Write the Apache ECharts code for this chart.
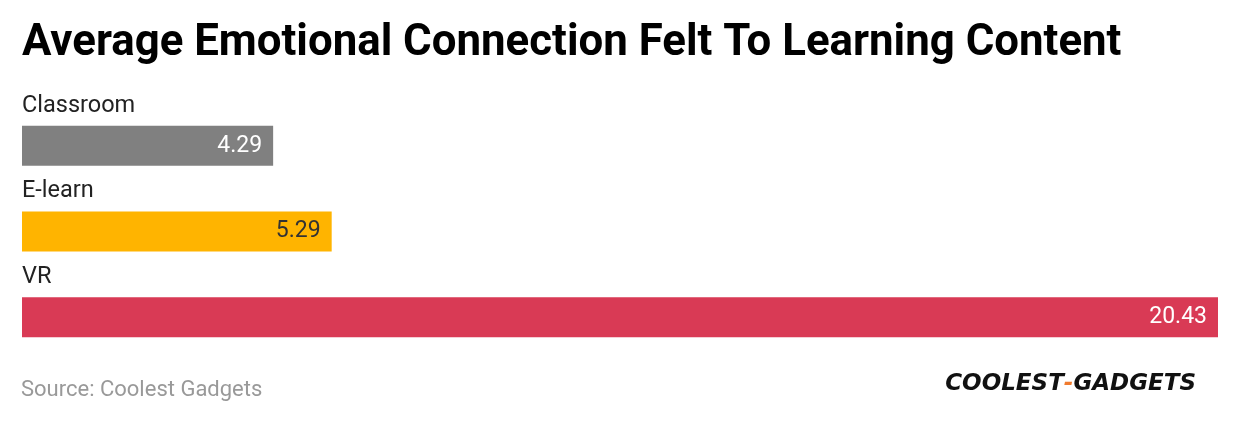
<!DOCTYPE html>
<html>
<head>
<meta charset="utf-8">
<script src="https://cdn.jsdelivr.net/npm/echarts@6/dist/echarts.min.js"></script>
<style>
  html, body { margin: 0; padding: 0; background: #fff; }
  #chart { width: 1240px; height: 424px; }
</style>
</head>
<body>
<div id="chart"></div>
<script>
// chart data
const categories = ['Classroom', 'E-learn', 'VR'];
const values = [4.29, 5.29, 20.43];
const barColors = ['#808080', '#FFB400', '#D93A55'];
const labelColors = ['#ffffff', '#333333', '#ffffff'];

const chart = echarts.init(document.getElementById('chart'));

const option = {
  backgroundColor: '#ffffff',
  animation: false,
  textStyle: { fontFamily: 'Roboto' },
  grid: { left: 22, right: 22, top: 103, bottom: 64 },
  xAxis: {
    type: 'value',
    min: 0,
    max: 20.43,
    show: false
  },
  yAxis: {
    type: 'category',
    data: categories,
    inverse: true,
    show: false
  },
  series: [
    {
      type: 'bar',
      barWidth: 40,
      data: values.map((v, i) => ({
        value: v,
        itemStyle: { color: barColors[i] },
        label: { color: labelColors[i] }
      })),
      label: {
        show: true,
        position: 'insideRight',
        distance: 11,
        fontSize: 23,
        fontFamily: 'Roboto',
        formatter: p => p.value.toFixed(2)
      }
    },
    {
      // invisible twin bars carrying the category names above each bar
      type: 'bar',
      barWidth: 40,
      barGap: '-100%',
      silent: true,
      itemStyle: { color: 'rgba(0,0,0,0)' },
      data: values,
      label: {
        show: true,
        position: [0, -43],
        align: 'left',
        verticalAlign: 'middle',
        offset: [0, 23],
        fontSize: 23.5,
        fontFamily: 'Roboto',
        color: '#222222',
        formatter: p => categories[p.dataIndex]
      }
    }
  ],
  graphic: [
    {
      type: 'text',
      left: 22,
      top: 22,
      style: {
        text: 'Average Emotional Connection Felt To Learning Content',
        font: 'bold 43.8px Roboto',
        fill: '#000000'
      }
    },
    {
      type: 'text',
      left: 21,
      top: 379,
      style: {
        text: 'Source: Coolest Gadgets',
        font: '22px Roboto',
        fill: '#999999'
      }
    },
    {
      type: 'text',
      right: 44,
      top: 373,
      style: {
        text: '{a|COOLEST}{b|-}{a|GADGETS}',
        rich: {
          a: { font: 'italic bold 23px "DejaVu Sans"', fill: '#111111' },
          b: { font: 'italic bold 23px "DejaVu Sans"', fill: '#F07B2E' }
        }
      }
    }
  ]
};

chart.setOption(option);
</script>
</body>
</html>
